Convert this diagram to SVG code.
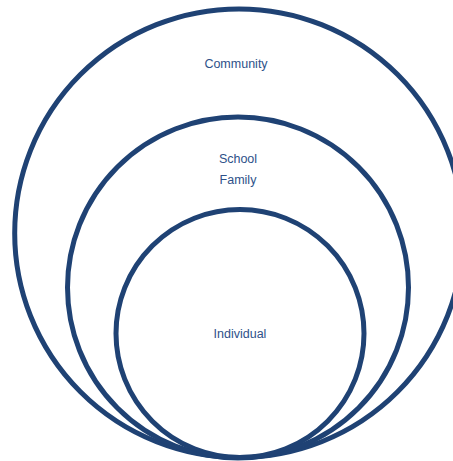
<svg xmlns="http://www.w3.org/2000/svg" width="453" height="461" viewBox="0 0 453 461">
<style>
.ring{fill:none;stroke:#1f4274;stroke-width:5}
.lbl{font-family:"Liberation Sans",Arial,sans-serif;font-size:12.5px;fill:#2e5189;text-anchor:middle}
</style>
<rect width="453" height="461" fill="#fff"/>
<g id="community">
<circle class="ring" cx="239" cy="233.2" r="224.3"/>
<text class="lbl" x="236" y="68.3">Community</text>
</g>
<g id="school-family">
<circle class="ring" cx="238" cy="287.5" r="170.5"/>
<text class="lbl" x="238" y="163">School</text>
<text class="lbl" x="238" y="184.3">Family</text>
</g>
<g id="individual">
<circle class="ring" cx="240" cy="333.5" r="124"/>
<text class="lbl" x="240" y="337.5">Individual</text>
</g>
<g id="connectors"/>
</svg>
